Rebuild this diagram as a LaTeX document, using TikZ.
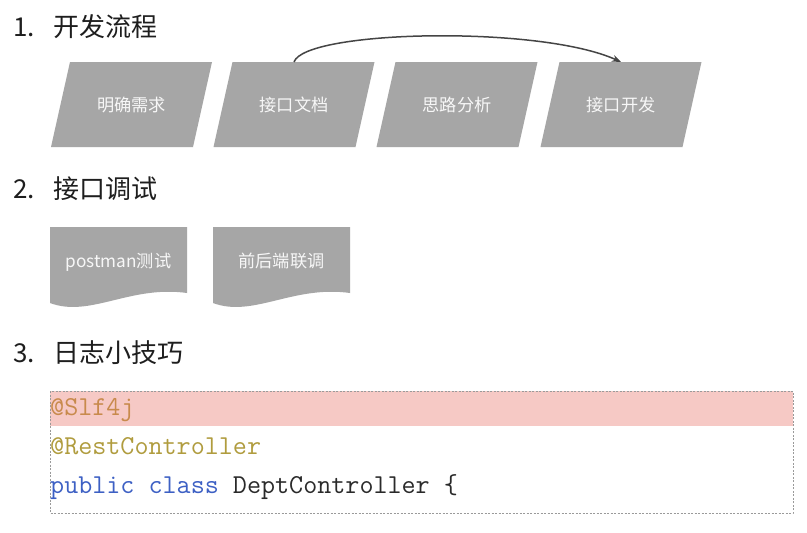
\documentclass[tikz,border=0pt]{standalone}
\usepackage{fontspec}
\setmainfont{Noto Sans CJK SC}
\usetikzlibrary{arrows.meta}
\definecolor{boxgray}{HTML}{A6A6A6}
\definecolor{boxtext}{HTML}{F7F7F7}
\definecolor{headcol}{HTML}{1E1E1E}
\definecolor{pinkband}{HTML}{F6C9C5}
\definecolor{annoA}{HTML}{C88A4C}
\definecolor{annoB}{HTML}{B09C3E}
\definecolor{kwblue}{HTML}{3D60C4}
\definecolor{codetext}{HTML}{2A2A2A}
\definecolor{arrowcol}{HTML}{454545}
\definecolor{dashcol}{HTML}{9A9A9A}
\newcommand\headline[2]{\makebox[40pt][l]{#1}#2}
\tikzset{
  heading/.style={anchor=base west, inner sep=0pt, font=\fontsize{26}{30}\selectfont, text=headcol},
  boxlabel/.style={anchor=base, inner sep=0pt, font=\fontsize{17.2}{20}\selectfont, text=boxtext},
  codeline/.style={anchor=base west, inner sep=0pt, font=\ttfamily\fontsize{27.3}{30}\selectfont},
}
\begin{document}
\begin{tikzpicture}[x=1pt,y=-1pt]
\useasboundingbox (0,0) rectangle (807,533);
\fill[white] (0,0) rectangle (807,533);

% Section 1
\node[heading] (h1) at (13,36) {\headline{1.}{开发流程}};

\foreach \cx/\nm/\txt in {131.5/p1/明确需求, 294/p2/接口文档, 457/p3/思路分析, 621/p4/接口开发}{
  \fill[boxgray] (\cx-61.5,62) -- (\cx+80.5,62) -- (\cx+61.5,147) -- (\cx-80.5,147) -- cycle;
  \node[boxlabel] (\nm) at (\cx,111) {\txt};
  \coordinate (\nm top) at (\cx,62);
}
\draw[arrowcol, line width=1.5pt, -{Stealth[length=9pt,width=7pt]}]
  (p2top) .. controls (305,30) and (540,25) .. (p4top);

% Section 2
\node[heading] (h2) at (13,198) {\headline{2.}{接口调试}};

\foreach \lx/\nm/\txt in {50/d1/postman测试, 213/d2/前后端联调}{
  \fill[boxgray] (\lx,227) -- (\lx+137,227) -- (\lx+137,293)
     .. controls (\lx+80,285) and (\lx+40,318) .. (\lx,303) -- cycle;
  \node[boxlabel] (\nm) at (\lx+68.5,267) {\txt};
}

% Section 3
\node[heading] (h3) at (13,362) {\headline{3.}{日志小技巧}};

\fill[pinkband] (50,391) rectangle (793,426);
\draw[dashcol, line width=0.7pt, dash pattern=on 2pt off 1.5pt] (50,391) rectangle (793,513);
\node[codeline, text=annoA] (c1) at (50,415) {@Slf4j};
\node[codeline, text=annoB] (c2) at (50,454) {@RestController};
\node[codeline] (c3) at (50,493) {\textcolor{kwblue}{public class} \textcolor{codetext}{DeptController \{}};
\end{tikzpicture}
\end{document}
